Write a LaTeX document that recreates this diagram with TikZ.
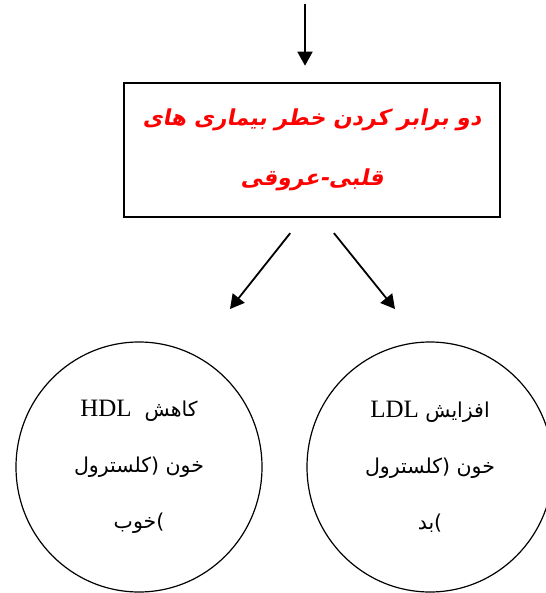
\documentclass[tikz,border=0pt]{standalone}
\usepackage{fontspec}
\setmainfont{Liberation Serif}
\newfontfamily\farsi[Script=Arabic]{DejaVu Sans}
\newfontfamily\farsibold[Script=Arabic,FakeSlant=0.2]{DejaVu Sans Bold}
\TeXXeTstate=1
\usetikzlibrary{arrows.meta,shapes.geometric}

\begin{document}
\begin{tikzpicture}[x=1pt,y=-1pt,
    arr/.style={line width=1.8pt,-{Triangle[length=14pt,width=15pt]}},
    riskbox/.style={draw,line width=2.6pt,minimum width=376pt,minimum height=134pt,
        align=center,text=red,font=\farsibold\fontsize{22}{60}\selectfont},
    blob/.style={ellipse,draw,line width=1.2pt,minimum width=246pt,minimum height=250pt,
        align=center,font=\farsi\fontsize{20.5}{56}\selectfont}]
    \useasboundingbox (0,0) rectangle (545,593);

    \node[riskbox] (risk) at (312,150)
        {\beginR دو برابر کردن خطر بیماری های\endR\\
         \beginR قلبی-عروقی\endR};

    \node[blob] (hdl) at (139,467)
        {\beginR کاهش\ \ \beginL{\rmfamily\fontsize{25}{56}\selectfont HDL}\endL\endR\\
         \beginR خون (کلسترول\endR\\
         \beginR خوب\endR)};
    \node[blob] (ldl) at (430,467)
        {\beginR افزایش \beginL{\rmfamily\fontsize{25}{56}\selectfont LDL}\endL\endR\\
         \beginR خون (کلسترول\endR\\
         \beginR بد\endR)};

    % arrows
    \coordinate (in) at (305,4);
    \coordinate (hdlin) at (230,309);
    \coordinate (ldlin) at (395,309);
    \draw[arr,shorten >=16pt] (in) -- (in |- risk.north);
    \draw[arr,shorten <=19pt] ([xshift=-10pt]risk.south) -- (hdlin);
    \draw[arr,shorten <=19pt] ([xshift=10pt]risk.south) -- (ldlin);

\end{tikzpicture}
\end{document}
